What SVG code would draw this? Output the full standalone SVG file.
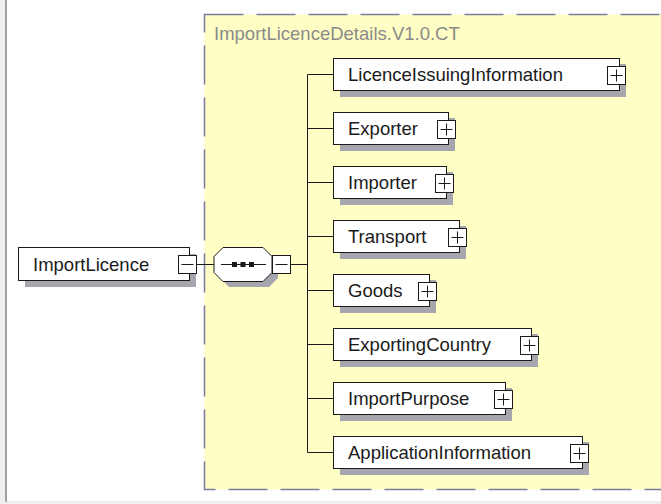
<svg xmlns="http://www.w3.org/2000/svg" width="661" height="504" viewBox="0 0 661 504">
<style>
.box{fill:#fff;stroke:#1a1a1a;stroke-width:1}
.shadow{fill:#a6a6ae}
.btn{fill:#fff;stroke:#1a1a1a;stroke-width:1}
.sign{stroke:#1a1a1a;stroke-width:1;fill:none}
.lbl{font-family:"Liberation Sans",Arial,sans-serif;font-size:18.5px;fill:#1a1a1a}
.conn{stroke:#1a1a1a;stroke-width:1;fill:none}
</style>
<rect x="0" y="0" width="661" height="504" fill="#fff"/>
<rect x="0" y="0" width="5" height="504" fill="#efefef"/>
<rect x="0" y="501" width="661" height="3" fill="#efefef"/>
<rect x="5" y="0" width="2" height="502" fill="#a0a0a0"/>

<g id="complexType">
<rect x="204.5" y="14.5" width="470" height="475" fill="#fffec4" stroke="#7a7aa0" stroke-width="1.5" stroke-dasharray="39 13"/>
<text x="214" y="40" font-family="'Liberation Sans',Arial,sans-serif" font-size="18.5" fill="#8a8a8a">ImportLicenceDetails.V1.0.CT</text>
</g>

<g id="connectors">
<line class="conn" x1="197" y1="264.5" x2="214" y2="264.5"/>
<line class="conn" x1="290" y1="264.5" x2="307.5" y2="264.5"/>
<line class="conn" x1="307.5" y1="74.5" x2="307.5" y2="452.5"/>
<line class="conn" x1="307.5" y1="74.5" x2="333" y2="74.5"/>
<line class="conn" x1="307.5" y1="128.5" x2="333" y2="128.5"/>
<line class="conn" x1="307.5" y1="182.5" x2="333" y2="182.5"/>
<line class="conn" x1="307.5" y1="236.5" x2="333" y2="236.5"/>
<line class="conn" x1="307.5" y1="290.5" x2="333" y2="290.5"/>
<line class="conn" x1="307.5" y1="344.5" x2="333" y2="344.5"/>
<line class="conn" x1="307.5" y1="398.5" x2="333" y2="398.5"/>
<line class="conn" x1="307.5" y1="452.5" x2="333" y2="452.5"/>
</g>

<g id="ImportLicence">
<rect class="shadow" x="25" y="254" width="171" height="33"/>
<rect class="box" x="18.5" y="247.5" width="171" height="33"/>
<text class="lbl" x="33" y="270.5">ImportLicence</text>
<rect class="btn" x="178.5" y="255.5" width="18" height="18"/>
<line class="sign" x1="181.5" y1="264.5" x2="193.5" y2="264.5"/>
</g>

<g id="sequence">
<polygon class="shadow" points="229,253 269,253 278,262 278,278 269,287 229,287 220,278 220,262"/>
<polygon class="box" points="223,247.5 263,247.5 272,256.5 272,272.5 263,281.5 223,281.5 214,272.5 214,256.5"/>
<line class="conn" x1="221" y1="264.5" x2="266" y2="264.5"/>
<rect x="232" y="262" width="5" height="5" fill="#1a1a1a"/>
<rect x="240.5" y="262" width="5" height="5" fill="#1a1a1a"/>
<rect x="249" y="262" width="5" height="5" fill="#1a1a1a"/>
<rect class="btn" x="272.5" y="255.5" width="18" height="18"/>
<line class="sign" x1="275.5" y1="264.5" x2="287.5" y2="264.5"/>
</g>

<g id="LicenceIssuingInformation">
<rect class="shadow" x="340" y="64" width="286" height="33"/>
<rect class="box" x="333.5" y="58.5" width="286" height="32"/>
<text class="lbl" x="348" y="81">LicenceIssuingInformation</text>
<rect class="btn" x="607.5" y="66.5" width="18" height="18"/>
<path class="sign" d="M610.5 75.5h12M616.5 69.5v12"/>
</g>

<g id="Exporter">
<rect class="shadow" x="340" y="118" width="115" height="33"/>
<rect class="box" x="333.5" y="112.5" width="115" height="32"/>
<text class="lbl" x="348" y="135">Exporter</text>
<rect class="btn" x="437.5" y="120.5" width="18" height="18"/>
<path class="sign" d="M440.5 129.5h12M446.5 123.5v12"/>
</g>

<g id="Importer">
<rect class="shadow" x="340" y="172" width="113" height="33"/>
<rect class="box" x="333.5" y="166.5" width="113" height="32"/>
<text class="lbl" x="348" y="189">Importer</text>
<rect class="btn" x="435.5" y="174.5" width="18" height="18"/>
<path class="sign" d="M438.5 183.5h12M444.5 177.5v12"/>
</g>

<g id="Transport">
<rect class="shadow" x="340" y="226" width="126" height="33"/>
<rect class="box" x="333.5" y="220.5" width="126" height="32"/>
<text class="lbl" x="348" y="243">Transport</text>
<rect class="btn" x="448.5" y="228.5" width="18" height="18"/>
<path class="sign" d="M451.5 237.5h12M457.5 231.5v12"/>
</g>

<g id="Goods">
<rect class="shadow" x="340" y="280" width="96" height="33"/>
<rect class="box" x="333.5" y="274.5" width="96" height="32"/>
<text class="lbl" x="348" y="297">Goods</text>
<rect class="btn" x="418.5" y="282.5" width="18" height="18"/>
<path class="sign" d="M421.5 291.5h12M427.5 285.5v12"/>
</g>

<g id="ExportingCountry">
<rect class="shadow" x="340" y="334" width="198" height="33"/>
<rect class="box" x="333.5" y="328.5" width="198" height="32"/>
<text class="lbl" x="348" y="351">ExportingCountry</text>
<rect class="btn" x="520.5" y="336.5" width="18" height="18"/>
<path class="sign" d="M523.5 345.5h12M529.5 339.5v12"/>
</g>

<g id="ImportPurpose">
<rect class="shadow" x="340" y="388" width="172" height="33"/>
<rect class="box" x="333.5" y="382.5" width="172" height="32"/>
<text class="lbl" x="348" y="405">ImportPurpose</text>
<rect class="btn" x="494.5" y="390.5" width="18" height="18"/>
<path class="sign" d="M497.5 399.5h12M503.5 393.5v12"/>
</g>

<g id="ApplicationInformation">
<rect class="shadow" x="340" y="442" width="249" height="33"/>
<rect class="box" x="333.5" y="436.5" width="249" height="32"/>
<text class="lbl" x="348" y="459">ApplicationInformation</text>
<rect class="btn" x="570.5" y="444.5" width="18" height="18"/>
<path class="sign" d="M573.5 453.5h12M579.5 447.5v12"/>
</g>
</svg>
